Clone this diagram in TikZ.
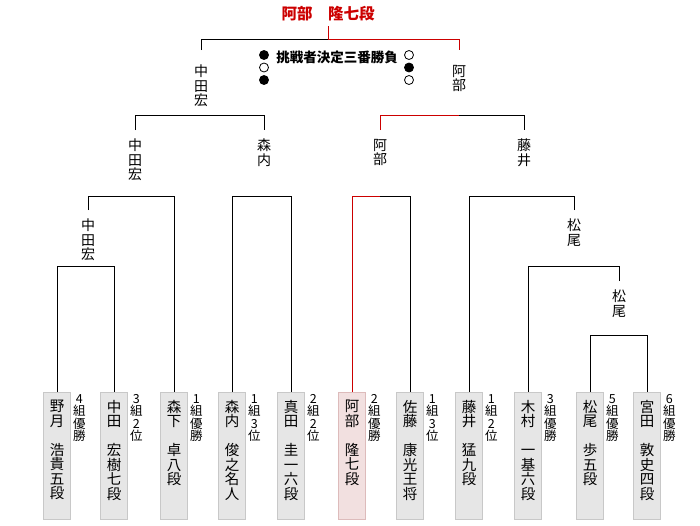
\documentclass[tikz,border=0pt]{standalone}
\usepackage{fontspec}
\setmainfont{Noto Sans CJK JP}
\usetikzlibrary{positioning}
\definecolor{bkred}{HTML}{CC0000}
\definecolor{bkgray}{HTML}{E6E6E6}
\definecolor{bkedge}{HTML}{C8C8C8}
\definecolor{bkpink}{HTML}{F2E0E0}
\definecolor{bkpinkedge}{HTML}{DDBBBB}

\begin{document}
\begin{tikzpicture}[
  x=1pt, y=-1pt,
  line/.style={draw=black, line width=1pt},
  won/.style={draw=bkred, line width=1pt},
  pbox/.style={draw=bkedge, fill=bkgray, line width=1pt, minimum width=27pt, minimum height=127pt, anchor=north, inner sep=0pt},
  wbox/.style={pbox, draw=bkpinkedge, fill=bkpink},
  pname/.style={font=\fontsize{14.5}{14.5}\selectfont, align=center, inner sep=0pt},
  pnote/.style={font=\fontsize{12.5}{12.5}\selectfont, align=center, inner sep=0pt},
  win/.style={font=\fontsize{14}{14.5}\selectfont, align=center, inner sep=0pt, anchor=north},
  dot/.style={circle, draw=black, line width=0.8pt, minimum size=9pt, inner sep=0pt}
]
  \useasboundingbox (0,0) rectangle (700,525);

  % players
  \node[pbox] (p1) at (57,392) {};
  \node[pbox] (p2) at (114,392) {};
  \node[pbox] (p3) at (174,392) {};
  \node[pbox] (p4) at (232,392) {};
  \node[pbox] (p5) at (291,392) {};
  \node[wbox] (p6) at (352,392) {};
  \node[pbox] (p7) at (410,392) {};
  \node[pbox] (p8) at (469,392) {};
  \node[pbox] (p9) at (528,392) {};
  \node[pbox] (p10) at (590,392) {};
  \node[pbox] (p11) at (647,392) {};

  \node[pname, below=8pt of p1.north] (n1) {野\\月\\[14.5pt]浩\\貴\\五\\段};
  \node[pname, below=8pt of p2.north] (n2) {中\\田\\[14.5pt]宏\\樹\\七\\段};
  \node[pname, below=8pt of p3.north] (n3) {森\\下\\[14.5pt]卓\\八\\段};
  \node[pname, below=8pt of p4.north] (n4) {森\\内\\[14.5pt]俊\\之\\名\\人};
  \node[pname, below=8pt of p5.north] (n5) {真\\田\\[14.5pt]圭\\一\\六\\段};
  \node[pname, below=8pt of p6.north] (n6) {阿\\部\\[14.5pt]隆\\七\\段};
  \node[pname, below=8pt of p7.north] (n7) {佐\\藤\\[14.5pt]康\\光\\王\\将};
  \node[pname, below=8pt of p8.north] (n8) {藤\\井\\[14.5pt]猛\\九\\段};
  \node[pname, below=8pt of p9.north] (n9) {木\\村\\[14.5pt]一\\基\\六\\段};
  \node[pname, below=8pt of p10.north] (n10) {松\\尾\\[14.5pt]歩\\五\\段};
  \node[pname, below=8pt of p11.north] (n11) {宮\\田\\[14.5pt]敦\\史\\四\\段};

  \node[pnote, below right=2pt and 2pt of p1.north east] (s1) {4\\組\\優\\勝};
  \node[pnote, below right=2pt and 2pt of p2.north east] (s2) {3\\組\\2\\位};
  \node[pnote, below right=2pt and 2pt of p3.north east] (s3) {1\\組\\優\\勝};
  \node[pnote, below right=2pt and 2pt of p4.north east] (s4) {1\\組\\3\\位};
  \node[pnote, below right=2pt and 2pt of p5.north east] (s5) {2\\組\\2\\位};
  \node[pnote, below right=2pt and 2pt of p6.north east] (s6) {2\\組\\優\\勝};
  \node[pnote, below right=2pt and 2pt of p7.north east] (s7) {1\\組\\3\\位};
  \node[pnote, below right=2pt and 2pt of p8.north east] (s8) {1\\組\\2\\位};
  \node[pnote, below right=2pt and 2pt of p9.north east] (s9) {3\\組\\優\\勝};
  \node[pnote, below right=2pt and 2pt of p10.north east] (s10) {5\\組\\優\\勝};
  \node[pnote, below right=2pt and 2pt of p11.north east] (s11) {6\\組\\優\\勝};

  % winners
  \node[win] (wA) at (88,219) {中\\田\\宏};
  \node[win] (wB) at (135,139) {中\\田\\宏};
  \node[win] (wC) at (264,139) {森\\内};
  \node[win] (wD) at (201,65) {中\\田\\宏};
  \node[win] (wE) at (380,139) {阿\\部};
  \node[win] (wF) at (619,290) {松\\尾};
  \node[win] (wG) at (574,219) {松\\尾};
  \node[win] (wH) at (524,139) {藤\\井};
  \node[win] (wI) at (459,65) {阿\\部};
  \node[font=\fontsize{15.5}{15.5}\selectfont\bfseries, text=bkred, inner sep=0pt] (champ) at (328,14) {阿部　隆七段};
  \node[font=\fontsize{13.5}{13.5}\selectfont\bfseries, inner sep=0pt] (match) at (337,57) {挑戦者決定三番勝負};

  \node[dot, fill=black] (c1) at (264,55) {};
  \node[dot, fill=white] (c2) at (264,67.5) {};
  \node[dot, fill=black] (c3) at (264,80) {};
  \node[dot, fill=white] (c4) at (409,55) {};
  \node[dot, fill=black] (c5) at (409,67.5) {};
  \node[dot, fill=white] (c6) at (409,80) {};

  % bracket levels
  \coordinate (l1) at (0,335);
  \coordinate (l2) at (0,266);
  \coordinate (l3) at (0,196);
  \coordinate (l4) at (0,115);
  \coordinate (l5) at (0,39);

  \draw[line] (p1.north) -- (p1.north |- l2) -- (p2.north |- l2) -- (p2.north);
  \draw[line] (p10.north) -- (p10.north |- l1) -- (p11.north |- l1) -- (p11.north);
  \draw[line] ([yshift=9pt]wF.north) -- (wF.north |- l2) -- (p9.north |- l2) -- (p9.north);
  \draw[line] ([yshift=9pt]wA.north) -- (wA.north |- l3) -- (p3.north |- l3) -- (p3.north);
  \draw[line] (p4.north) -- (p4.north |- l3) -- (p5.north |- l3) -- (p5.north);
  \draw[won] (p6.north) -- (p6.north |- l3) -- (wE.north |- l3);
  \draw[line] (wE.north |- l3) -- (p7.north |- l3) -- (p7.north);
  \draw[line] ([yshift=9pt]wG.north) -- (wG.north |- l3) -- (p8.north |- l3) -- (p8.north);
  \draw[line] ([yshift=9pt]wB.north) -- (wB.north |- l4) -- (wC.north |- l4) -- ([yshift=9pt]wC.north);
  \draw[won] ([yshift=9pt]wE.north) -- (wE.north |- l4) -- (wI.north |- l4);
  \draw[line] (wI.north |- l4) -- (wH.north |- l4) -- ([yshift=9pt]wH.north);
  \draw[line] ([yshift=15pt]wD.north) -- (wD.north |- l5) -- (champ.south |- l5);
  \draw[won] (champ.south |- l5) -- (wI.north |- l5) -- ([yshift=15pt]wI.north);
  \draw[won] (champ.south |- l5) -- ([yshift=-4pt]champ.south);
\end{tikzpicture}
\end{document}
